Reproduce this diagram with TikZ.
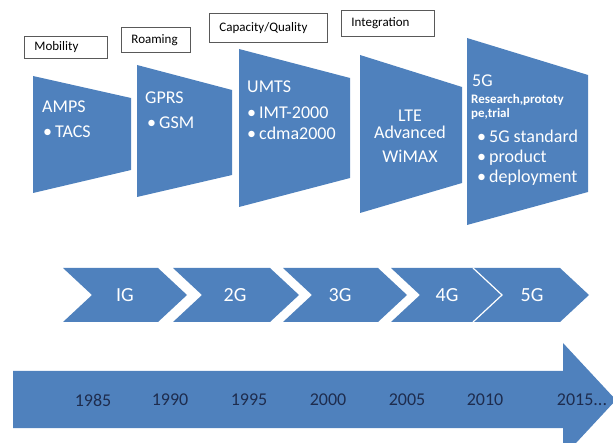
\documentclass[tikz,border=0pt]{standalone}
\usepackage{fontspec}
\setmainfont{Carlito}
\usetikzlibrary{positioning}
\definecolor{techblue}{RGB}{79,129,189}
\definecolor{yearnavy}{RGB}{30,44,78}

\begin{document}
\begin{tikzpicture}[x=1pt, y=-1pt, every node/.style={inner sep=0pt},
  labelbox/.style={draw=black!65, fill=white, line width=0.9pt, align=left, inner xsep=10pt, anchor=north west, font=\fontsize{13}{14}\selectfont},
  gentext/.style={anchor=base west, text=white, font=\fontsize{18}{20}\selectfont},
  chevtext/.style={text=white, font=\fontsize{20}{22}\selectfont},
  yeartext/.style={text=yearnavy, font=\fontsize{18}{20}\selectfont}]
\useasboundingbox (0,0) rectangle (613,443);
\clip (0,0) rectangle (613,443);

% Feature boxes
\node (mobility) [labelbox, text width=63pt, minimum height=22pt] at (24,36) {Mobility};
\node (roaming) [labelbox, text width=49pt, minimum height=25pt] at (121,27) {Roaming};
\node (capacity) [labelbox, text width=98pt, minimum height=29pt] at (209,13) {Capacity/Quality};
\node (integration) [labelbox, text width=73pt, minimum height=26pt] at (341,10) {Integration};

% Generation blocks
\fill[techblue] (33,76) -- (131,98) -- (131,170) -- (33,193) -- cycle;
\fill[techblue] (137,65) -- (232,90) -- (232,175) -- (137,197) -- cycle;
\fill[techblue] (239,49) -- (350,78) -- (350,178) -- (239,207) -- cycle;
\fill[techblue] (360,55) -- (462,87) -- (462,183) -- (360,213) -- cycle;
\fill[techblue] (467,38) -- (588,75) -- (588,192) -- (467,225) -- cycle;

\node (amps) [gentext] at (42,113) {AMPS};
\node (tacs) [gentext] at (43,138) {\textbullet\,TACS};
\node (gprs) [gentext] at (145,104) {GPRS};
\node (gsm) [gentext] at (147,129) {\textbullet\,GSM};
\node (umts) [gentext] at (247,93) {UMTS};
\node (imt) [gentext] at (247,119) {\textbullet\,IMT-2000};
\node (cdma) [gentext] at (247,140) {\textbullet\,cdma2000};
\node (lte) [gentext, anchor=base] at (410,122) {LTE};
\node (adv) [gentext, anchor=base] at (410,139) {Advanced};
\node (wimax) [gentext, anchor=base] at (410,163) {WiMAX};
\node (fiveg) [gentext] at (472,87) {5G};
\node (research) [gentext, font=\fontsize{13}{15}\selectfont\bfseries] at (471,104) {Research,prototy};
\node (trial) [gentext, font=\fontsize{13}{15}\selectfont\bfseries] at (471,118) {pe,trial};
\node (standard) [gentext] at (477,143) {\textbullet\,5G standard};
\node (product) [gentext] at (477,163) {\textbullet\,product};
\node (deploy) [gentext] at (477,183) {\textbullet\,deployment};

% Chevrons
\fill[techblue] (63,268) -- (158,268) -- (187,295) -- (158,322) -- (63,322) -- (92,295) -- cycle;
\fill[techblue] (173,268) -- (270,268) -- (299,295) -- (270,322) -- (173,322) -- (202,295) -- cycle;
\fill[techblue] (283,268) -- (378,268) -- (407,295) -- (378,322) -- (283,322) -- (312,295) -- cycle;
\fill[techblue] (391,268) -- (473,268) -- (502,295) -- (473,322) -- (391,322) -- (420,295) -- cycle;
\fill[techblue] (473,268) -- (560,268) -- (589,295) -- (560,322) -- (473,322) -- (502,295) -- cycle;
\draw[white, line width=1.2pt] (473,268) -- (502,295) -- (473,322);

\node (g1) [chevtext] at (125,295) {IG};
\node (g2) [chevtext] at (235,295) {2G};
\node (g3) [chevtext] at (340,295) {3G};
\node (g4) [chevtext] at (447,295) {4G};
\node (g5) [chevtext] at (532,295) {5G};

% Time axis
\fill[techblue] (13,371) -- (563,371) -- (563,343) -- (616,400) -- (563,457) -- (563,428) -- (13,428) -- cycle;
\node (y1985) [yeartext] at (93,400) {1985};
\node (y1990) [yeartext] at (170,400) {1990};
\node (y1995) [yeartext] at (249,400) {1995};
\node (y2000) [yeartext] at (328,400) {2000};
\node (y2005) [yeartext] at (407,400) {2005};
\node (y2010) [yeartext] at (485,400) {2010};
\node (y2015) [yeartext] at (582,400) {2015...};
\end{tikzpicture}
\end{document}
